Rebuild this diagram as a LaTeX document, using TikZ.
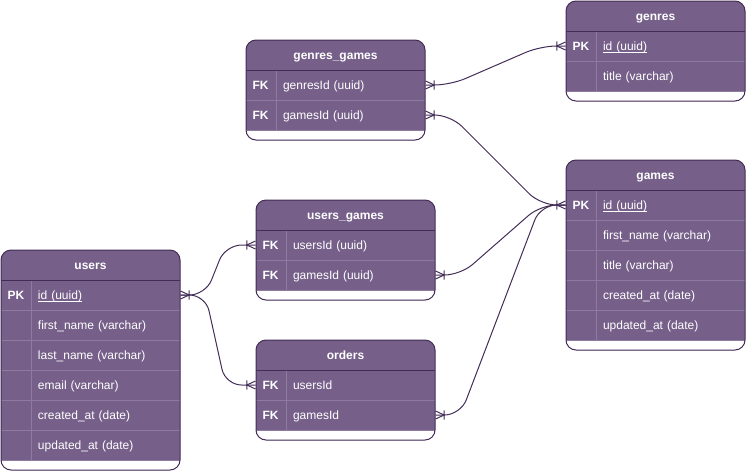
\documentclass[tikz,border=0pt]{standalone}
\usepackage{fontspec}
\setmainfont{Liberation Sans}
\usepackage{tikz}
\usetikzlibrary{positioning}
\usetikzlibrary{calc}
\definecolor{erfill}{HTML}{76608A}
\definecolor{erline}{HTML}{432D57}
\definecolor{ersep}{HTML}{8E7CA0}
\tikzset{every picture/.style={line width=0.75pt},
  tabhead/.style={text=white,font=\fontsize{9}{11}\selectfont\bfseries,inner sep=0pt,text height=1.6ex,text depth=0.35ex},
  field/.style={minimum width=134.25pt,minimum height=22.5pt,inner sep=0pt,text width=134.25pt,align=left,text=white,font=\fontsize{9}{11}\selectfont,text height=1.6ex,text depth=0.35ex},
  rel/.style={draw=erline,rounded corners=12pt},
  crow/.pic={\draw[erline,sharp corners] (0pt,3pt) -- (6.5pt,0pt) -- (0pt,-3pt) (6.5pt,3.5pt) -- (6.5pt,-3.5pt);}}
\newcommand\keycol[1]{\makebox[27.75pt][l]{\hspace{4.9pt}\textbf{#1}}}
\newcommand\keyname[1]{\setbox0\hbox{#1}\rlap{\rule[-1.4pt]{\wd0}{0.55pt}}\box0}
% table frame: left, top, number of rows
\newcommand\erframe[3]{%
  \fill[erfill,rounded corners=7.5pt] (#1,#2) rectangle ++(179,{40+30*#3});
  \fill[white] (#1,{#2+30+30*#3}) rectangle ++(179,10);
  \foreach \r in {1,...,#3} \draw[ersep] (#1,{#2+30+30*\r}) -- ++(179,0);
  \draw[ersep] ({#1+30},{#2+30}) -- ++(0,{30*#3});
  \draw[erline] (#1,{#2+30}) -- ++(179,0);
  \draw[erline,rounded corners=7.5pt] (#1,#2) rectangle ++(179,{40+30*#3});}
\begin{document}
\begin{tikzpicture}[x=0.75pt,y=-0.75pt]
\useasboundingbox (0,0) rectangle (747,472);
% genres_games
\erframe{246}{40}{2}
\node[tabhead] (gg) at (335.5,55) {genres\_games};
\node[field] (gg-1) at (335.5,85) {\keycol{FK}genresId (uuid)};
\node[field] (gg-2) at (335.5,115) {\keycol{FK}gamesId (uuid)};
% genres
\erframe{566}{1}{2}
\node[tabhead] (genres) at (655.5,16) {genres};
\node[field] (genres-1) at (655.5,46) {\keycol{PK}\keyname{id (uuid)}};
\node[field] (genres-2) at (655.5,76) {\keycol{}title (varchar)};
% games
\erframe{566}{160}{5}
\node[tabhead] (games) at (655.5,175) {games};
\node[field] (games-1) at (655.5,205) {\keycol{PK}\keyname{id (uuid)}};
\node[field] (games-2) at (655.5,235) {\keycol{}first\_name (varchar)};
\node[field] (games-3) at (655.5,265) {\keycol{}title (varchar)};
\node[field] (games-4) at (655.5,295) {\keycol{}created\_at (date)};
\node[field] (games-5) at (655.5,325) {\keycol{}updated\_at (date)};
% users_games
\erframe{256}{200}{2}
\node[tabhead] (ug) at (345.5,215) {users\_games};
\node[field] (ug-1) at (345.5,245) {\keycol{FK}usersId (uuid)};
\node[field] (ug-2) at (345.5,275) {\keycol{FK}gamesId (uuid)};
% users
\erframe{1}{250}{6}
\node[tabhead] (users) at (90.5,265) {users};
\node[field] (users-1) at (90.5,295) {\keycol{PK}\keyname{id (uuid)}};
\node[field] (users-2) at (90.5,325) {\keycol{}first\_name (varchar)};
\node[field] (users-3) at (90.5,355) {\keycol{}last\_name (varchar)};
\node[field] (users-4) at (90.5,385) {\keycol{}email (varchar)};
\node[field] (users-5) at (90.5,415) {\keycol{}created\_at (date)};
\node[field] (users-6) at (90.5,445) {\keycol{}updated\_at (date)};
% orders
\erframe{256}{340}{2}
\node[tabhead] (orders) at (345.5,355) {orders};
\node[field] (orders-1) at (345.5,385) {\keycol{FK}usersId};
\node[field] (orders-2) at (345.5,415) {\keycol{FK}gamesId};
% relations
\draw[rel] (gg-1.east) -- ++(25,0) -- ($(genres-1.west)+(-25,0)$) -- (genres-1.west);
\draw[rel] (gg-2.east) -- ++(25,0) -- ($(games-1.west)+(-25,0)$) -- (games-1.west);
\draw[rel] (ug-2.east) -- ++(25,0) -- ($(games-1.west)+(-25,0)$) -- (games-1.west);
\draw[rel] (orders-2.east) -- ++(25,0) -- ($(games-1.west)+(-25,0)$) -- (games-1.west);
\draw[rel] (users-1.east) -- ++(25,0) -- ($(ug-1.west)+(-30,0)$) -- (ug-1.west);
\draw[rel] (users-1.east) -- ++(25,0) -- ($(orders-1.west)+(-30,0)$) -- (orders-1.west);
\pic at (gg-1.east) {crow};
\pic at (gg-2.east) {crow};
\pic at (ug-2.east) {crow};
\pic at (orders-2.east) {crow};
\pic at (users-1.east) {crow};
\pic[rotate=180] at (genres-1.west) {crow};
\pic[rotate=180] at (games-1.west) {crow};
\pic[rotate=180] at (ug-1.west) {crow};
\pic[rotate=180] at (orders-1.west) {crow};
\end{tikzpicture}
\end{document}
